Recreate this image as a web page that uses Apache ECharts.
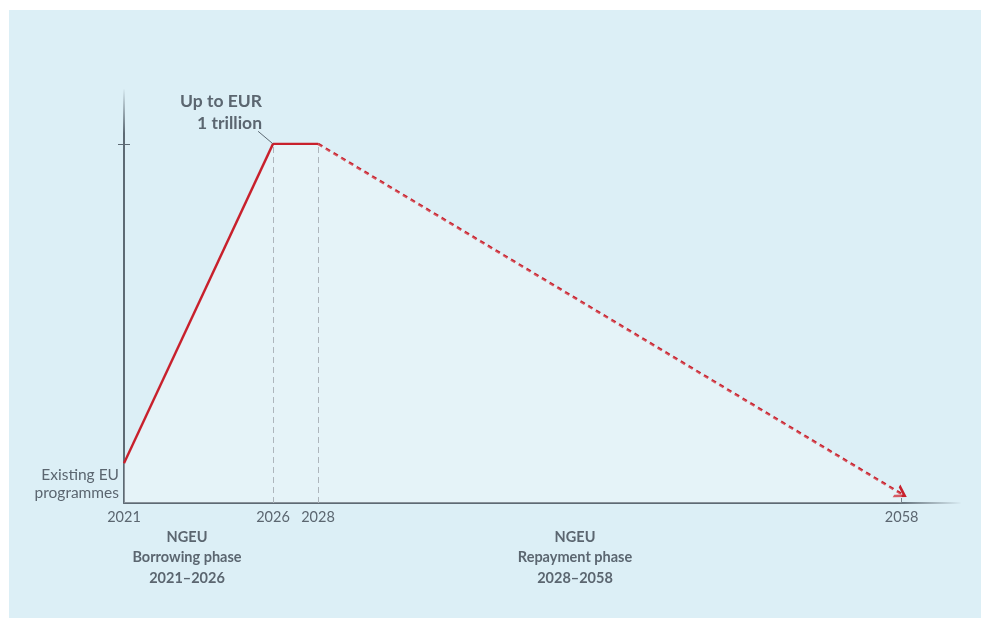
<!DOCTYPE html>
<html>
<head>
<meta charset="utf-8">
<script src="https://cdn.jsdelivr.net/npm/echarts@6/dist/echarts.min.js"></script>
<style>
html,body{margin:0;padding:0;background:#ffffff;}
#chart{width:981px;height:618px;}
</style>
</head>
<body>
<div id="chart"></div>
<script>
// ---- data ----
const phaseYears = [2021, 2026, 2028, 2058];         // key years on the x axis
const debtValues = [111, 1000, 1000, 25];            // schematic outstanding NGEU debt (EUR bn)
const axisMaxYear = 2061;
const yMax = 1150;
const peakTick = [1000];
const existingLabelValue = [53];
const existingLabel = 'Existing EU\nprogrammes';
const peakLabel = 'Up to EUR\n1 trillion';
const borrowingLabel = 'NGEU\nBorrowing phase\n2021–2026';
const repaymentLabel = 'NGEU\nRepayment phase\n2028–2058';

// ---- styles ----
const axisColor = '#5d6a74';
const textColor = '#5b6670';
const red = '#c8202c';
const guideColor = '#8f9ba4';
const fontFam = 'Lato, "Open Sans", sans-serif';
const areaFill = 'rgba(255,255,255,0.38)';
const chevron = 'path://M10,0 L20,16 L15.8,16 L10,6.5 L4.2,16 L0,16 Z';

const pts = phaseYears.map((y, i) => [y, debtValues[i]]);

const chart = echarts.init(document.getElementById('chart'), null, {renderer: 'canvas'});

const gridCommon = {top: 90, bottom: 115};
const xLabel = {color: textColor, fontFamily: fontFam, fontSize: 14.5, margin: 7, formatter: v => String(v)};

const option = {
  backgroundColor: '#ffffff',
  animation: false,
  graphic: [
    {type: 'rect', z: -10, shape: {x: 9, y: 10, width: 972, height: 608}, style: {fill: '#dceff6'}},
    {type: 'text', z: 10, style: {text: borrowingLabel, x: 187, y: 527, textAlign: 'center', textVerticalAlign: 'top',
      font: 'bold 14.5px ' + fontFam, fill: textColor, lineHeight: 20.5}},
    {type: 'text', z: 10, style: {text: repaymentLabel, x: 575, y: 527, textAlign: 'center', textVerticalAlign: 'top',
      font: 'bold 14.5px ' + fontFam, fill: textColor, lineHeight: 20.5}}
  ],
  grid: [
    Object.assign({left: 124, width: 149}, gridCommon),
    Object.assign({left: 273, width: 45}, gridCommon),
    Object.assign({left: 318, width: 642}, gridCommon)
  ],
  xAxis: [
    {gridIndex: 0, type: 'value', min: phaseYears[0], max: phaseYears[1],
      axisLine: {show: true, lineStyle: {color: axisColor, width: 2}},
      axisTick: {show: false}, splitLine: {show: false},
      axisLabel: Object.assign({customValues: [phaseYears[0], phaseYears[1]]}, xLabel)},
    {gridIndex: 1, type: 'value', min: phaseYears[1], max: phaseYears[2],
      axisLine: {show: true, lineStyle: {color: axisColor, width: 2}},
      axisTick: {show: false}, splitLine: {show: false},
      axisLabel: Object.assign({customValues: [phaseYears[2]]}, xLabel)},
    {gridIndex: 2, type: 'value', min: phaseYears[2], max: axisMaxYear,
      axisLine: {show: true, lineStyle: {width: 2, color: {type: 'linear', x: 0, y: 0, x2: 1, y2: 0,
        colorStops: [{offset: 0, color: axisColor}, {offset: 0.9, color: axisColor}, {offset: 1, color: 'rgba(93,106,116,0)'}]}}},
      axisTick: {show: true, inside: true, length: 5, customValues: [phaseYears[3]], lineStyle: {color: axisColor, width: 1}},
      splitLine: {show: false},
      axisLabel: Object.assign({customValues: [phaseYears[3]]}, xLabel)}
  ],
  yAxis: [
    {gridIndex: 0, type: 'value', min: 0, max: yMax, position: 'left',
      axisLine: {show: true, lineStyle: {width: 2, color: {type: 'linear', x: 0, y: 0, x2: 0, y2: 1,
        colorStops: [{offset: 0, color: 'rgba(93,106,116,0)'}, {offset: 0.11, color: axisColor}, {offset: 1, color: axisColor}]}}},
      axisTick: {show: true, length: 6, customValues: peakTick, lineStyle: {color: axisColor, width: 1}},
      splitLine: {show: false},
      axisLabel: {customValues: existingLabelValue, formatter: () => existingLabel, color: textColor,
        fontFamily: fontFam, fontSize: 15.5, lineHeight: 18, align: 'right', margin: 5}},
    {gridIndex: 0, type: 'value', min: 0, max: yMax, position: 'left', offset: 0,
      axisLine: {show: false},
      axisTick: {show: true, inside: true, length: 6, customValues: peakTick, lineStyle: {color: axisColor, width: 1}},
      splitLine: {show: false}, axisLabel: {show: false}},
    {gridIndex: 1, type: 'value', min: 0, max: yMax, show: false},
    {gridIndex: 2, type: 'value', min: 0, max: yMax, show: false}
  ],
  series: [
    {type: 'line', xAxisIndex: 0, yAxisIndex: 0, data: [pts[0], pts[1]], symbol: 'none', silent: true,
      lineStyle: {color: red, width: 2.4}, areaStyle: {color: areaFill}, z: 5,
      markLine: {silent: true, symbol: ['none', 'none'], label: {show: false},
        lineStyle: {color: '#5d6a74', width: 1, type: 'solid'},
        data: [[{coord: [pts[1][0] - 0.5, pts[1][1] + 35]}, {coord: pts[1]}]]},
      markPoint: {silent: true, symbol: 'circle', symbolSize: 0,
        label: {show: true, position: 'left', distance: 11, offset: [0, -32], formatter: peakLabel,
          color: textColor, fontFamily: fontFam, fontWeight: 'bold', fontSize: 17.5, lineHeight: 22},
        data: [{coord: pts[1]}]}},
    {type: 'line', xAxisIndex: 1, yAxisIndex: 2, data: [pts[1], pts[2]], symbol: 'none', silent: true,
      lineStyle: {color: red, width: 2.4}, areaStyle: {color: areaFill}, z: 5, clip: false,
      markLine: {silent: true, symbol: ['none', 'none'], label: {show: false},
        lineStyle: {color: guideColor, width: 1, type: [6, 4]},
        data: [[{coord: [pts[1][0], 0]}, {coord: pts[1]}], [{coord: [pts[2][0], 0]}, {coord: pts[2]}]]}},
    {type: 'line', xAxisIndex: 2, yAxisIndex: 3, data: [pts[2], pts[3]], symbol: 'none', silent: true,
      lineStyle: {opacity: 0}, areaStyle: {color: areaFill}, z: 5,
      markLine: {silent: true, symbol: ['none', chevron], symbolSize: [15, 12], label: {show: false},
        lineStyle: {color: red, width: 2.6, type: [5, 4]},
        data: [[{coord: pts[2]}, {coord: pts[3]}]]}}
  ]
};
chart.setOption(option);
</script>
</body>
</html>
